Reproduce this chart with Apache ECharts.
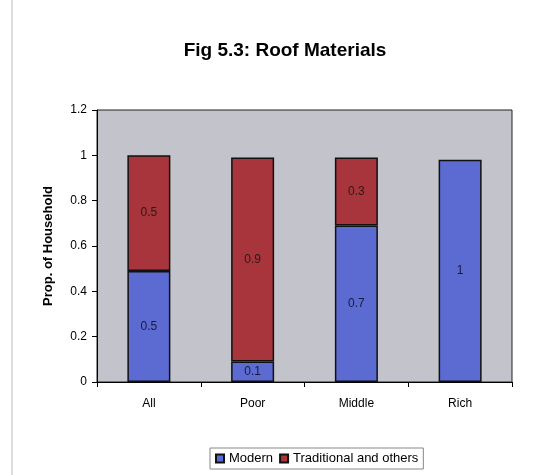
<!DOCTYPE html>
<html><head><meta charset="utf-8">
<script src="https://cdn.jsdelivr.net/npm/echarts@6/dist/echarts.min.js"></script>
<style>html,body{margin:0;padding:0;background:#fff}#c{width:541px;height:475px}</style>
</head><body><div id="c"></div>
<script>
const categories = ['All', 'Poor', 'Middle', 'Rich'];
const modern = [0.49, 0.09, 0.69, 0.98];
const traditional = [0.51, 0.9, 0.3, null];
const yTicks = [0, 0.2, 0.4, 0.6, 0.8, 1, 1.2];

const fmt = p => { if (!p.value) return ''; const s = p.value.toFixed(1); return s.endsWith('.0') ? s.slice(0, -2) : s; };
const chart = echarts.init(document.getElementById('c'));
chart.setOption({
  backgroundColor: '#fff',
  animation: false,
  title: { text: 'Fig 5.3: Roof Materials', left: 280, textAlign: 'center', top: 36,
    textStyle: { fontFamily: 'Liberation Sans, Arial', fontWeight: 'bold', fontSize: 19, color: '#000' } },
  graphic: [{ type: 'line', shape: { x1: 12, y1: 0, x2: 12, y2: 475 }, style: { stroke: '#bbb', lineWidth: 1 } }],
  legend: { bottom: 6, left: 210, itemWidth: 8, itemHeight: 8, itemGap: 6,
    borderColor: '#888', borderWidth: 1, padding: [4, 5],
    textStyle: { fontFamily: 'Liberation Sans, Arial', fontSize: 13, color: '#000' },
    data: [{ name: 'Modern', icon: 'rect' }, { name: 'Traditional and others', icon: 'rect' }] },
  grid: { left: 97, right: 29, top: 110, bottom: 93, show: true, backgroundColor: '#c3c3cb', borderColor: '#222', borderWidth: 1 },
  xAxis: { type: 'category', data: categories,
    axisLine: { lineStyle: { color: '#000' } }, axisTick: { show: true, alignWithLabel: false, lineStyle: { color: '#000' } },
    axisLabel: { margin: 16, color: '#000', fontFamily: 'Liberation Sans, Arial', fontSize: 12 } },
  yAxis: { type: 'value', min: 0, max: 1.2, interval: 0.2,
    name: 'Prop. of Household', nameLocation: 'middle', nameGap: 42,
    nameTextStyle: { fontFamily: 'Liberation Sans, Arial', fontWeight: 'bold', fontSize: 13, color: '#000' },
    axisLine: { show: true, lineStyle: { color: '#000' } }, axisTick: { show: true, lineStyle: { color: '#000' } },
    splitLine: { show: false },
    axisLabel: { color: '#000', fontFamily: 'Liberation Sans, Arial', fontSize: 12, margin: 10,
      formatter: v => yTicks.includes(Math.round(v * 10) / 10) ? String(Math.round(v * 10) / 10) : '' } },
  series: [
    { name: 'Modern', type: 'bar', stack: 's', data: modern, barWidth: 43,
      itemStyle: { color: '#5b6bd1', borderColor: '#111', borderWidth: 1.5 },
      label: { show: true, position: 'inside', formatter: fmt, color: '#1a1a3a', fontFamily: 'Liberation Sans, Arial', fontSize: 12 } },
    { name: 'Traditional and others', type: 'bar', stack: 's', data: traditional, barWidth: 43,
      itemStyle: { color: '#a8343c', borderColor: '#111', borderWidth: 1.5 },
      label: { show: true, position: 'inside', formatter: fmt, color: '#2a1a1a', fontFamily: 'Liberation Sans, Arial', fontSize: 12 } }
  ]
});
</script></body></html>
